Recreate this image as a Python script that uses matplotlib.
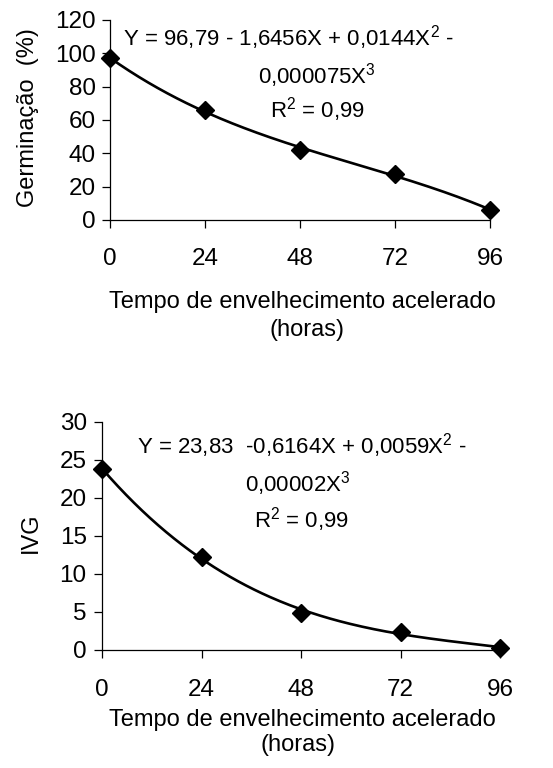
import matplotlib
matplotlib.use("Agg")
import matplotlib.pyplot as plt
import numpy as np

plt.rcParams["font.family"] = ["Liberation Sans", "DejaVu Sans"]
plt.rcParams["mathtext.fontset"] = "custom"
plt.rcParams["mathtext.rm"] = "Liberation Sans"
plt.rcParams["mathtext.it"] = "Liberation Sans"
plt.rcParams["mathtext.bf"] = "Liberation Sans:bold"

# aging time (hours)
tempo = [0, 24, 48, 72, 96]
# germination (%)
germinacao = [97, 66, 42, 27.5, 6]
# IVG
ivg = [23.8, 12.3, 4.9, 2.4, 0.3]

x_ticks = [0, 24, 48, 72, 96]
germ_ticks = [0, 20, 40, 60, 80, 100, 120]
ivg_ticks = [0, 5, 10, 15, 20, 25, 30]

germ_eq = ["Y = 96,79 - 1,6456X + 0,0144X$^{2}$ -", "0,000075X$^{3}$", "R$^{2}$ = 0,99"]
ivg_eq = ["Y = 23,83  -0,6164X + 0,0059X$^{2}$ -", "0,00002X$^{3}$", "R$^{2}$ = 0,99"]

xlabel = "Tempo de envelhecimento acelerado"
xlabel2 = "(horas)"

W, H = 553, 768
TICK_FS = 17.5
EQ_FS = 16
LABEL_FS = 17


def fx(px):
    return px / W


def fy(py):
    return 1 - py / H


def draw_panel(fig, rect, yvals, yticks, ylabel, eq_lines, eq_pos, ylab_pos, xl_pos,
               xpad, ypad):
    ax = fig.add_axes(rect)
    coef = np.polyfit(tempo, yvals, 3)
    xs = np.linspace(0, 96, 200)
    ax.plot(xs, np.polyval(coef, xs), color="black", linewidth=1.9, clip_on=False)
    ax.plot(tempo, yvals, linestyle="none", marker="D", markersize=9,
            color="black", clip_on=False, zorder=5)
    ax.set_xlim(0, 96)
    ax.set_ylim(yticks[0], yticks[-1])
    ax.set_xticks(x_ticks)
    ax.set_yticks(yticks)
    ax.spines["top"].set_visible(False)
    ax.spines["right"].set_visible(False)
    for s in ("left", "bottom"):
        ax.spines[s].set_linewidth(0.9)
    ax.tick_params(axis="x", direction="out", length=6, width=0.9, pad=xpad, labelsize=TICK_FS)
    ax.tick_params(axis="y", direction="out", length=6, width=0.9, pad=ypad, labelsize=TICK_FS)

    for (px, py), line in zip(eq_pos, eq_lines):
        fig.text(fx(px), fy(py), line, fontsize=EQ_FS, ha="center", va="baseline")

    fig.text(fx(ylab_pos[0]), fy(ylab_pos[1]), ylabel, fontsize=LABEL_FS,
             rotation=90, ha="center", va="center")
    fig.text(fx(xl_pos[0][0]), fy(xl_pos[0][1]), xlabel, fontsize=LABEL_FS, ha="center", va="center")
    fig.text(fx(xl_pos[1][0]), fy(xl_pos[1][1]), xlabel2, fontsize=LABEL_FS, ha="center", va="center")
    return ax


fig = plt.figure(figsize=(W / 100, H / 100), dpi=100)

# equation positions are text baselines
draw_panel(
    fig,
    [fx(110), fy(220), fx(490) - fx(110), fy(20) - fy(220)],
    germinacao, germ_ticks, "Germinação  (%)", germ_eq,
    [(288, 46), (317, 83), (318, 118)],
    (28, 118),
    [(302, 302), (307, 330)],
    xpad=14, ypad=4,
)

draw_panel(
    fig,
    [fx(102), fy(650), fx(500) - fx(102), fy(422) - fy(650)],
    ivg, ivg_ticks, "IVG", ivg_eq,
    [(302, 453), (298, 491), (302, 528)],
    (31, 533),
    [(302, 720), (298, 745)],
    xpad=15, ypad=5,
)

fig.savefig("out.png", dpi=100)
